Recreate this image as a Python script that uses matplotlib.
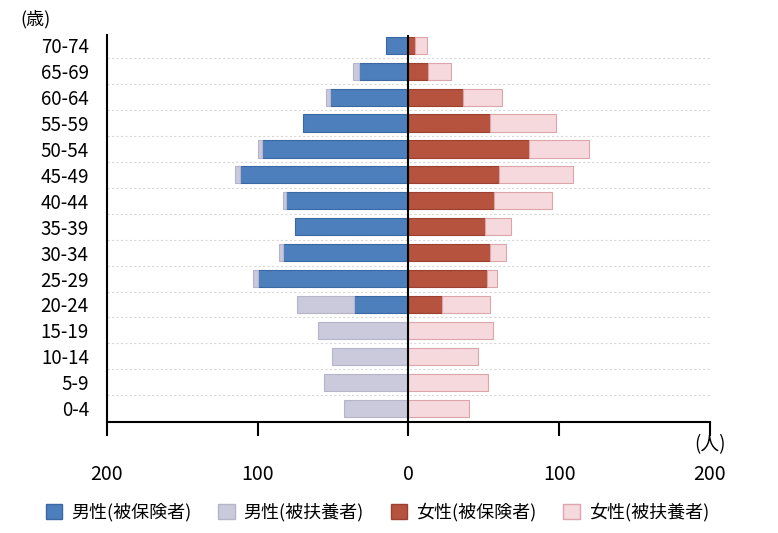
import matplotlib
matplotlib.use("Agg")
import matplotlib.pyplot as plt
import numpy as np
from matplotlib.patches import Patch

plt.rcParams['font.family'] = ['Noto Sans CJK JP', 'DejaVu Sans']

ages = ["0-4", "5-9", "10-14", "15-19", "20-24", "25-29", "30-34", "35-39",
        "40-44", "45-49", "50-54", "55-59", "60-64", "65-69", "70-74"]
male_insured = [0, 0, 0, 0, 36, 100, 83, 75, 81, 112, 97, 70, 52, 33, 15]
male_dependent = [43, 56, 51, 60, 38, 3, 3, 0, 2, 3, 3, 0, 3, 4, 0]
female_insured = [0, 0, 0, 0, 22, 52, 54, 51, 57, 60, 80, 54, 36, 13, 4]
female_dependent = [40, 53, 46, 56, 32, 7, 11, 17, 38, 49, 40, 44, 26, 15, 8]
xticks = [-200, -100, 0, 100, 200]
xticklabels = ["200", "100", "0", "100", "200"]
legend_labels = ["男性(被保険者)", "男性(被扶養者)", "女性(被保険者)", "女性(被扶養者)"]

c_mi, e_mi = "#4d7fbd", "#3a68a3"
c_md, e_md = "#cacadc", "#b5b5c9"
c_fi, e_fi = "#b5533f", "#9c4030"
c_fd, e_fd = "#f6d9dc", "#dba5ab"

fig = plt.figure(figsize=(7.78, 5.33), dpi=100)
ax = fig.add_axes([0.1375, 0.208, 0.7751, 0.726])

y = np.arange(len(ages))
h = 0.66
mi = np.array(male_insured, dtype=float)
md = np.array(male_dependent, dtype=float)
fi = np.array(female_insured, dtype=float)
fd = np.array(female_dependent, dtype=float)


def bars(width, left, color, edge):
    m = width != 0
    ax.barh(y[m], width[m], left=left[m], height=h, color=color,
            edgecolor=edge, linewidth=0.8, zorder=3)


zero = np.zeros_like(mi)
bars(-mi, zero, c_mi, e_mi)
bars(-md, -mi, c_md, e_md)
bars(fi, zero, c_fi, e_fi)
bars(fd, fi, c_fd, e_fd)

ax.set_xlim(-200, 200)
ax.set_ylim(-0.54, 14.39)

for b in np.arange(-0.5, 14.6, 1.0)[1:]:
    ax.axhline(b, color="#d8d8d8", linewidth=0.8, linestyle=(0, (2, 2)), zorder=1)
ax.axvline(0, color="black", linewidth=1.5, zorder=4)

ax.set_yticks(y)
ax.set_yticklabels(ages, fontsize=13.5)
ax.tick_params(axis="y", length=0, pad=13)
ax.set_xticks(xticks)
ax.set_xticklabels(xticklabels, fontsize=14)
ax.tick_params(axis="x", length=10, width=1.5, direction="out", pad=20)

for s in ["top", "right"]:
    ax.spines[s].set_visible(False)
ax.spines["left"].set_linewidth(1.5)
ax.spines["bottom"].set_linewidth(1.5)

fig.text(36 / 778, 1 - 19 / 533, "(歳)", fontsize=13, ha="center", va="center")
fig.text(710 / 778, 1 - 445 / 533, "(人)", fontsize=13.5, ha="center", va="center")

handles = [Patch(facecolor=c_mi, edgecolor=e_mi),
           Patch(facecolor=c_md, edgecolor=e_md),
           Patch(facecolor=c_fi, edgecolor=e_fi),
           Patch(facecolor=c_fd, edgecolor=e_fd)]
fig.legend(handles, legend_labels, loc="center", bbox_to_anchor=(0.485, 1 - 512 / 533),
           ncol=4, frameon=False, fontsize=13, handlelength=0.9, handleheight=0.9,
           handletextpad=0.5, columnspacing=1.5)

fig.savefig("out.png", dpi=100)
